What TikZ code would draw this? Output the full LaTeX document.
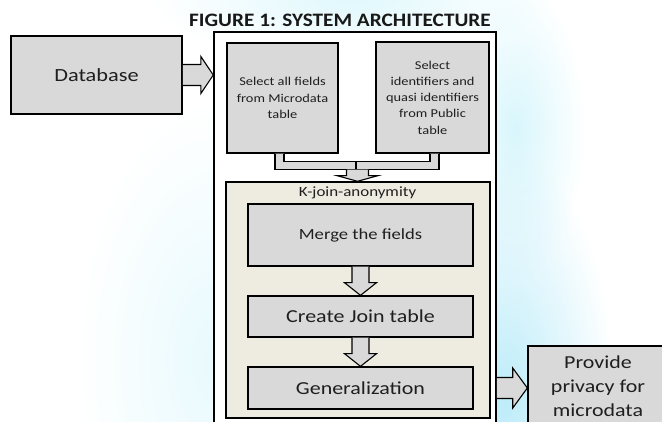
\documentclass[tikz,border=0pt]{standalone}
\usepackage{fontspec}
\setmainfont{Carlito}[FakeStretch=1.2]
\newfontfamily\titlefont{Carlito}[FakeStretch=1.12]
\usetikzlibrary{calc,fadings}
\definecolor{boxgray}{HTML}{D9D9D9}
\definecolor{kbeige}{HTML}{EEECE1}
\definecolor{cyanB}{HTML}{BDECF9}
\definecolor{cyanC}{HTML}{D8F6FC}
\tikzfading[name=softblob, inner color=transparent!0, outer color=transparent!100]
\newcommand{\DownBlockArrow}[5]{%
  \draw[pipe] ($(#1)+(-#3,0)$) -- ($(#1)+(-#3,#5)$) -- ($(#1)+(-#4,#5)$) -- (#1 |- #2)
    -- ($(#1)+(#4,#5)$) -- ($(#1)+(#3,#5)$) -- ($(#1)+(#3,0)$);}
\newcommand{\RightBlockArrow}[5]{%
  \draw[pipe] ($(#1)+(0,-#3)$) -- ($(#1)+(#5,-#3)$) -- ($(#1)+(#5,-#4)$) -- (#2 |- #1)
    -- ($(#1)+(#5,#4)$) -- ($(#1)+(#5,#3)$) -- ($(#1)+(0,#3)$);}
\begin{document}
\begin{tikzpicture}[x=1pt,y=-1pt,
  box/.style={draw=black, fill=boxgray, line width=1.3pt, inner sep=2pt, align=center, text=black!88},
  pipe/.style={draw=black, fill=boxgray, line width=1.1pt, line join=miter},
  smalltext/.style={font=\fontsize{12}{16.3}\selectfont},
  bigtext/.style={font=\fontsize{18.3}{24}\selectfont},
  blob/.style={path fading=softblob},
]
\useasboundingbox (0,0) rectangle (662,421);
\clip (0,0) rectangle (662,421);
% faint background watermark
\fill[cyanC, blob, opacity=0.8] (350,0) ellipse [x radius=200, y radius=60];
\fill[cyanC, blob] (515,130) ellipse [x radius=70, y radius=150];
\fill[cyanB, blob] (505,400) ellipse [x radius=110, y radius=250];
\fill[cyanC, blob, opacity=0.6] (215,360) ellipse [x radius=140, y radius=260];

% title
\node[anchor=base, font=\titlefont\bfseries\fontsize{19}{22}\selectfont, text=black!90] (title) at (340,26.7) {FIGURE 1: SYSTEM ARCHITECTURE};

% outer frame
\node[draw=black, line width=1.5pt, fill=white, minimum width=282pt, minimum height=408pt, inner sep=0pt] (outer) at (355,236) {};

% database
\node[box, line width=1.8pt, minimum width=171pt, minimum height=78pt, font=\fontsize{18.6}{22}\selectfont] (db) at (96.5,75) {Database};

% select boxes
\node[box, smalltext, minimum width=111pt, minimum height=110pt] (sel1) at (282.5,98) {Select all fields\\from Microdata\\table};
\node[box, smalltext, minimum width=113pt, minimum height=111pt] (sel2) at (432.5,97.5) {Select\\identifiers and\\quasi identifiers\\from Public\\table};

% K-join container
\node[draw=black, line width=1.4pt, fill=kbeige, minimum width=264pt, minimum height=236pt, inner sep=0pt] (kjoin) at (358,300) {};
\node[anchor=base, font=\fontsize{14.1}{17}\selectfont, text=black!88] (klabel) at (357.5,196.5) {K-join-anonymity};

% steps
\node[box, minimum width=225pt, minimum height=62pt, font=\fontsize{15.5}{18}\selectfont] (merge) at (360.5,235) {Merge the fields};
\node[box, bigtext, minimum width=225pt, minimum height=41pt] (create) at (360.5,316.5) {Create Join table};
\node[box, bigtext, minimum width=225pt, minimum height=42pt] (gen) at (360.5,388) {Generalization};

% output
\node[box, bigtext, minimum width=140pt, minimum height=80pt] (provide) at (598,386) {Provide\\privacy for\\microdata};

% connectors
\coordinate (jn) at ($(sel1.south)!0.5!(sel2.south)$);
\draw[pipe] ($(sel1.south)+(-7.5,0)$) -- ($(sel1.south)+(-7.5,16)$) -- ($(jn)+(-1.5,16)$)
  -- ($(jn)+(-1.5,8)$) -- ($(sel1.south)+(1.5,8)$) -- ($(sel1.south)+(1.5,0)$);
\draw[pipe] ($(sel2.south)+(6.5,0)$) -- ($(sel2.south)+(6.5,16)$) -- ($(jn)+(-1.5,16)$)
  -- ($(jn)+(-1.5,8)$) -- ($(sel2.south)+(-2.5,8)$) -- ($(sel2.south)+(-2.5,0)$);
\coordinate (jnb) at ($(jn)+(0,16)$);
\DownBlockArrow{jnb}{kjoin.north}{11}{20.5}{6}

\RightBlockArrow{db.east}{outer.west}{10.5}{18.5}{18}
\DownBlockArrow{merge.south}{create.north}{8.5}{16}{16}
\DownBlockArrow{create.south}{gen.north}{8.5}{16}{16}
\coordinate (gout) at (outer.east |- gen.east);
\RightBlockArrow{gout}{provide.west}{10.5}{20}{16}
\end{tikzpicture}
\end{document}
